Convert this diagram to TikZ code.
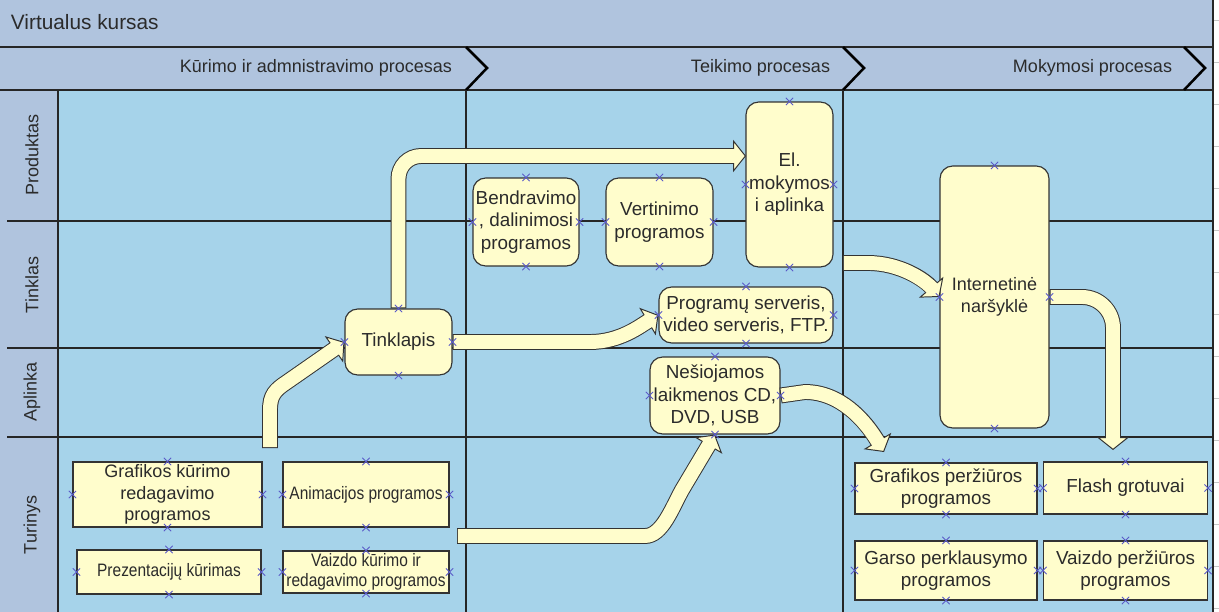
\documentclass[tikz,border=0pt]{standalone}
\usepackage{fontspec}
\setmainfont{Liberation Sans}
\newfontfamily\narrowfont[FakeStretch=0.86]{Liberation Sans}
\usetikzlibrary{arrows.meta,shapes.misc,calc}

\definecolor{hdrblue}{HTML}{B0C4DE}
\definecolor{laneblue}{HTML}{A6D3EA}
\definecolor{boxfill}{HTML}{FFFDCC}
\definecolor{edgegray}{HTML}{333333}
\definecolor{markblue}{HTML}{5A5AC8}
\definecolor{txtgray}{HTML}{2B2B2B}

\tikzset{
    wh/.style 2 args={minimum width=#1*0.025cm, minimum height=#2*0.025cm},
    boxfont/.style={font=\fontsize{13.4}{16}\selectfont},
    rbox/.style={draw=edgegray, fill=boxfill, line width=0.8pt,
        rounded corners=9pt, align=center, inner sep=0pt, boxfont},
    sbox/.style={draw=edgegray, fill=boxfill, line width=0.8pt,
        align=center, inner sep=0pt, boxfont},
    fatout/.style={draw=edgegray, line width=11.3pt,
        -{Triangle[length=0.32cm, width=0.8cm, fill=boxfill, line width=0.7pt]}},
    fatin/.style={draw=boxfill, line width=9.9pt,
        shorten >=7.4pt, shorten <=0.7pt},
    sepline/.style={draw=black!85, line width=1pt},
    chev/.style={draw=black, line width=1.8pt},
    xmark/.style={cross out, draw=markblue, line width=0.6pt,
        minimum size=4.6pt, inner sep=0pt},
    narrow/.style={font={\narrowfont\fontsize{12.8}{14}\selectfont}},
}
% fat flow arrow: outline pass, then fill pass
\newcommand\fatarrow[2][]{%
    \draw[fatout,#1] #2;
    \draw[fatin,#1] #2;}

\begin{document}
\begin{tikzpicture}[
    x=0.025cm,
    y=-0.025cm,
    every node/.style={font=\fontsize{12.8}{16}\selectfont, text=txtgray}
]
\useasboundingbox (0,0) rectangle (1219,612);

% Pool background
\fill[hdrblue] (0,0) rectangle (1213,612);
\fill[white] (1213,0) rectangle (1219,612);
\fill[laneblue] (58,90) rectangle (1213,612);
\foreach \t in {0,...,14}
    \draw[gray!45, line width=0.4pt] (1213,{20+42*\t}) -- (1219,{20+42*\t});

% Title and phases
\node[anchor=west, font=\fontsize{14.8}{16}\selectfont] (title) at (6,22) {Virtualus kursas};
\draw[sepline] (0,47) -- (1213,47);
\draw[sepline] (0,90) -- (1213,90);
\node[anchor=east] (ph1) at (457,68) {Kūrimo ir admnistravimo procesas};
\node[anchor=east] (ph2) at (835,68) {Teikimo procesas};
\node[anchor=east] (ph3) at (1177,68) {Mokymosi procesas};
\draw[chev] (466,47) -- (487,68) -- (466,90);
\draw[chev] (843,47) -- (864,68) -- (843,90);
\draw[chev] (1184,47) -- (1205,68) -- (1184,90);

% Lanes
\foreach \yy in {221,348,437}
    \draw[sepline] (7,\yy) -- (1213,\yy);
\foreach \xx in {58,466,843}
    \draw[sepline] (\xx,90) -- (\xx,612);
\draw[sepline] (1213,0) -- (1213,612);
\node[rotate=90] (lprod) at (32,155) {Produktas};
\node[rotate=90] (ltink) at (32,285) {Tinklas};
\node[rotate=90] (lapl) at (32,392) {Aplinka};
\node[rotate=90] (ltur) at (32,525) {Turinys};

% Boxes
\node[rbox, wh={87}{165}] (elm) at (789.5,184.5) {El.\\mokymos\\i aplinka};
\node[rbox, wh={106}{88}] (bendr) at (526,222) {Bendravimo\\, dalinimosi\\programos};
\node[rbox, wh={107}{88}] (vert) at (659.5,222) {Vertinimo\\programos};
\node[rbox, wh={174}{56}] (srv) at (746,315) {Programų serveris,\\video serveris, FTP.};
\node[rbox, wh={130}{77}] (nes) at (715,395.5) {Nešiojamos\\laikmenos CD,\\DVD, USB};
\node[rbox, wh={107}{66}] (tinkl) at (398.5,342) {Tinklapis};
\node[rbox, wh={109}{262}, font=\fontsize{12.8}{16}\selectfont] (inb) at (994.5,297)
    {Internetinė\\naršyklė};

\node[sbox, wh={189}{65}, font=\fontsize{12.8}{15.3}\selectfont] (grk) at (167.5,494.5)
    {Grafikos kūrimo\\redagavimo\\programos};
\node[sbox, wh={166}{65}, narrow] (anim) at (366,494.5) {Animacijos programos};
\node[sbox, wh={184}{44}, narrow] (prez) at (169,572) {Prezentacijų kūrimas};
\node[sbox, wh={166}{42}, narrow] (vkur) at (366,572) {Vaizdo kūrimo ir\\redagavimo programos};
\node[sbox, wh={182}{51}] (grp) at (946,488.5) {Grafikos peržiūros\\programos};
\node[sbox, wh={164}{52}] (flash) at (1125.5,488) {Flash grotuvai};
\node[sbox, wh={182}{59}] (garso) at (946,570.5) {Garso perklausymo\\programos};
\node[sbox, wh={164}{59}] (vper) at (1125.5,570.5) {Vaizdo peržiūros\\programos};

% Flow arrows
\coordinate (a1) at (270,448);
\coordinate (a2) at (746,156);
\coordinate (a4) at (457,536);
\coordinate (a5) at (884,452);
\coordinate (a6) at (843,263);
\coordinate (a7) at (1113,450);

\fatarrow{(a1) -- (270,410)
    .. controls (270,395) and (275,390) .. (287,382) -- (tinkl.west)}
\fatarrow[rounded corners=16pt]{(tinkl.north) |- (a2)}
\fatarrow{(tinkl.east) -- (590,342)
    .. controls (620,342) and (640,326) .. (srv.west)}
\fatarrow{(a4) -- (645,536)
    .. controls (662,536) and (672,508) .. (682,490) -- (nes.south)}
\fatarrow{(nes.east) -- (805,392)
    .. controls (840,392) and (865,420) .. (a5)}
\fatarrow{(a6) -- (868,263)
    .. controls (900,263) and (925,280) .. (inb.west)}
\fatarrow[rounded corners=22pt]{(inb.east) -| (a7)}

% Connection points
\foreach \n in {elm,bendr,vert,srv,nes,tinkl,inb,grk,anim,prez,vkur,grp,flash,garso,vper}
    \foreach \a in {north,south,east,west}
        \node[xmark] at (\n.\a) {};

\end{tikzpicture}
\end{document}
